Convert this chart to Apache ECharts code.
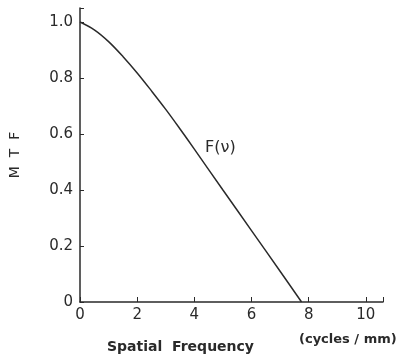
<!DOCTYPE html>
<html>
<head>
<meta charset="utf-8">
<script src="https://cdn.jsdelivr.net/npm/echarts@6/dist/echarts.min.js"></script>
<style>
  html, body { margin: 0; padding: 0; background: #fff; }
  #mtfChart { width: 413px; height: 360px; }
</style>
</head>
<body>
<div id="mtfChart"></div>
<script>
// spatial frequency (cycles/mm) and MTF
const freq = [0, 0.5, 1, 1.5, 2, 2.5, 3, 3.5, 4, 5, 6, 7, 7.75];
const mtf = [1.0, 0.972, 0.93, 0.877, 0.818, 0.754, 0.688, 0.618, 0.546, 0.4, 0.255, 0.11, 0];
const xTicks = [0, 2, 4, 6, 8, 10];
const yTicks = [0, 0.2, 0.4, 0.6, 0.8, 1.0];

const ink = "#2a2a2a";
const chart = echarts.init(document.getElementById("mtfChart"));

let option = {
  backgroundColor: "#fff",
  animation: false,
  grid: { left: 77, right: 30, top: 8, bottom: 58 },
  xAxis: {
    type: "value",
    min: 0,
    max: 10.6,
    interval: 2,
    splitLine: { show: false },
    axisLine: { lineStyle: { color: ink, width: 1.5 } },
    axisTick: { inside: true, length: 5, lineStyle: { color: ink } },
    axisLabel: {
      color: ink,
      fontSize: 15,
      fontFamily: "DejaVu Sans",
      margin: 6,
      formatter: (v) => (xTicks.includes(v) ? String(v) : ""),
    },
  },
  yAxis: {
    type: "value",
    min: 0,
    max: 1.05,
    interval: 0.2,
    name: "M  T  F",
    nameLocation: "middle",
    nameRotate: 90,
    nameGap: 58,
    nameTextStyle: { color: ink, fontSize: 14, fontFamily: "DejaVu Sans" },
    splitLine: { show: false },
    axisLine: { lineStyle: { color: ink, width: 1.5 } },
    axisTick: { inside: true, length: 4, lineStyle: { color: ink } },
    axisLabel: {
      color: ink,
      fontSize: 15,
      fontFamily: "DejaVu Sans",
      margin: 7,
      formatter: (v) => {
        let t = yTicks.find((k) => Math.abs(k - v) < 1e-6);
        if (t === undefined) return "";
        return t === 0 ? "0" : t.toFixed(1);
      },
    },
  },
  graphic: [
    {
      type: "text",
      left: 205,
      top: 140,
      style: { text: "F(ν)", fill: ink, font: "16px DejaVu Sans" },
    },
    {
      type: "text",
      left: 107,
      top: 340,
      style: { text: "Spatial  Frequency", fill: ink, font: "bold 14px DejaVu Sans" },
    },
    {
      type: "text",
      left: 299,
      top: 333,
      style: { text: "(cycles / mm)", fill: ink, font: "bold 13px DejaVu Sans" },
    },
  ],
  series: [
    {
      type: "line",
      data: freq.map((f, i) => [f, mtf[i]]),
      smooth: 0.35,
      showSymbol: false,
      lineStyle: { color: ink, width: 1.5 },
    },
  ],
};
chart.setOption(option, true);
</script>
</body>
</html>
